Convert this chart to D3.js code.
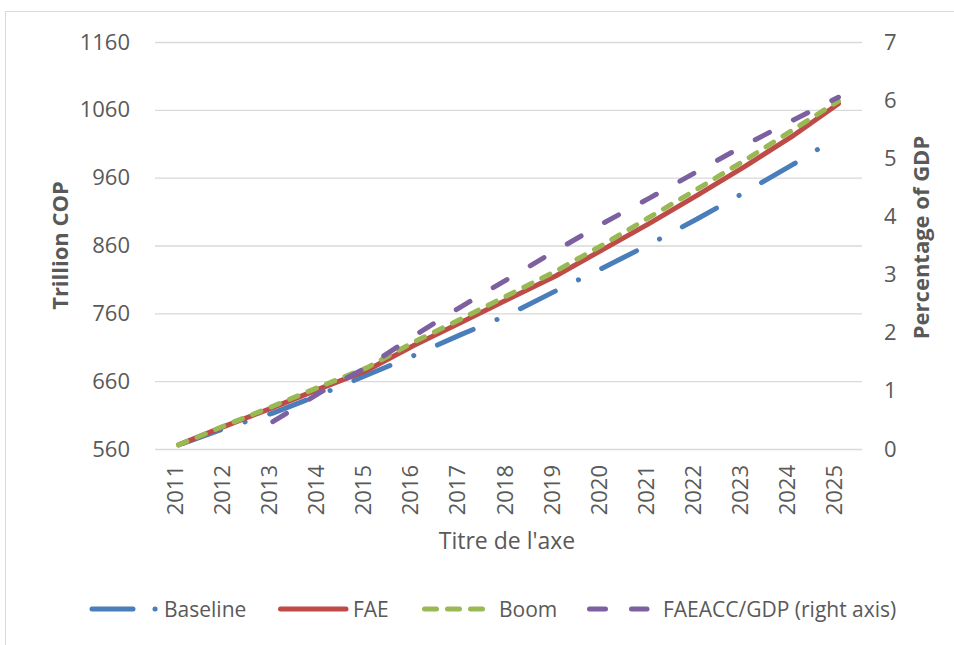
<!DOCTYPE html>
<html>
<head>
<meta charset="utf-8">
<script src="https://cdn.jsdelivr.net/npm/d3@7"></script>
<style>
  html, body { margin: 0; padding: 0; background: #fff; }
  svg { display: block; }
  text { font-family: "Open Sans", "Noto Sans", sans-serif; fill: #595959; }
</style>
</head>
<body>
<svg id="chart" width="954" height="645"></svg>
<script>
// Categories and series (trillion COP, right series in % of GDP)
const years = ["2011","2012","2013","2014","2015","2016","2017","2018","2019","2020","2021","2022","2023","2024","2025"];
const baseline = [566, 591, 613, 640, 669, 698, 729, 758, 793, 827, 862, 899, 938, 978, 1020];
const fae      = [566, 594, 621, 649, 676, 713, 747, 781, 815, 854, 893, 934, 976, 1020, 1069];
const boom     = [566, 595, 623, 652, 680, 718, 752, 787, 822, 861, 902, 943, 985, 1029, 1073];
const faeaccGdp = [null, null, 0.47, 0.97, 1.41, 1.95, 2.45, 2.93, 3.41, 3.88, 4.32, 4.77, 5.22, 5.64, 6.05];

const leftTicks = [560, 660, 760, 860, 960, 1060, 1160];
const rightTicks = [0, 1, 2, 3, 4, 5, 6, 7];

const svg = d3.select("#chart");

// Outer chart frame
svg.append("rect")
  .attr("x", 5.5).attr("y", 11.5)
  .attr("width", 970).attr("height", 660)
  .attr("fill", "none").attr("stroke", "#d9d9d9").attr("stroke-width", 1);

const plot = { left: 155, right: 862, top: 42, bottom: 449 };

const x = d3.scaleBand().domain(years).range([plot.left, plot.right]).padding(0);
const xc = d => x(d) + x.bandwidth() / 2;
const yL = d3.scaleLinear().domain([560, 1160]).range([plot.bottom, plot.top]);
const yR = d3.scaleLinear().domain([0, 7]).range([plot.bottom, plot.top]);

const tickFont = "22px";

// Horizontal gridlines at left-axis ticks
svg.append("g")
  .attr("transform", `translate(${plot.left},0)`)
  .call(d3.axisLeft(yL).tickValues(leftTicks).tickSize(-(plot.right - plot.left)).tickFormat(""))
  .call(g => g.select(".domain").remove())
  .call(g => g.selectAll("line").attr("stroke", "#d9d9d9").attr("stroke-width", 1.3));

// Left axis labels
svg.append("g")
  .attr("transform", `translate(${plot.left},0)`)
  .call(d3.axisLeft(yL).tickValues(leftTicks).tickSize(0).tickPadding(25).tickFormat(d3.format("d")))
  .call(g => g.select(".domain").remove())
  .call(g => g.selectAll("text").style("font-size", tickFont).attr("fill", "#595959")
    .style("font-family", '"Open Sans", sans-serif'));

// Right axis labels
svg.append("g")
  .attr("transform", `translate(${plot.right},0)`)
  .call(d3.axisRight(yR).tickValues(rightTicks).tickSize(0).tickPadding(22).tickFormat(d3.format("d")))
  .call(g => g.select(".domain").remove())
  .call(g => g.selectAll("text").style("font-size", tickFont).attr("fill", "#595959")
    .style("font-family", '"Open Sans", sans-serif'));

// Category labels, rotated
svg.append("g")
  .selectAll("text")
  .data(years)
  .join("text")
  .attr("transform", d => `translate(${xc(d) + 4},${plot.bottom + 16}) rotate(-90)`)
  .attr("text-anchor", "end")
  .style("font-size", tickFont)
  .text(d => d);

// Axis titles
svg.append("text")
  .attr("transform", `translate(68,${(plot.top + plot.bottom) / 2}) rotate(-90)`)
  .attr("text-anchor", "middle")
  .style("font-size", "22px").style("font-weight", "bold")
  .text("Trillion COP");

svg.append("text")
  .attr("transform", `translate(929,${(plot.top + plot.bottom) / 2 - 8}) rotate(-90)`)
  .attr("text-anchor", "middle")
  .style("font-size", "22px").style("font-weight", "bold")
  .text("Percentage of GDP");

svg.append("text")
  .attr("x", 507).attr("y", 549)
  .attr("text-anchor", "middle")
  .style("font-size", "23px")
  .text("Titre de l'axe");

// Series definitions
const series = [
  { name: "Baseline", values: baseline, scale: yL, color: "#4a7ebb", dash: "39,25.8,0.1,25.8", offset: -5.5 },
  { name: "FAE", values: fae, scale: yL, color: "#be4b48", dash: null, offset: 0 },
  { name: "Boom", values: boom, scale: yL, color: "#98b954", dash: "9,11", offset: 0 },
  { name: "FAEACC/GDP (right axis)", values: faeaccGdp, scale: yR, color: "#7d60a0", dash: "16,27", offset: 0 }
];

const lines = svg.append("g");
series.forEach(s => {
  const line = d3.line()
    .defined(d => d != null)
    .x((d, i) => xc(years[i]))
    .y(d => s.scale(d));
  lines.append("path")
    .datum(s.values)
    .attr("d", line)
    .attr("fill", "none")
    .attr("stroke", s.color)
    .attr("stroke-width", 5)
    .attr("stroke-linecap", "round")
    .attr("stroke-linejoin", "round")
    .attr("stroke-dasharray", s.dash)
    .attr("stroke-dashoffset", s.offset);
});

// Legend
const legendY = 609;
const legendItems = [
  { s: series[0], x0: 92, x1: 160, tx: 164, dash: "41,22,0.1,100" },
  { s: series[1], x0: 280.5, x1: 346, tx: 353, dash: null },
  { s: series[2], x0: 424.5, x1: 484, tx: 499, dash: "12,11" },
  { s: series[3], x0: 589.5, x1: 647, tx: 663, dash: "16,26" }
];
const legend = svg.append("g");
legendItems.forEach(it => {
  legend.append("line")
    .attr("x1", it.x0).attr("x2", it.x1)
    .attr("y1", legendY).attr("y2", legendY)
    .attr("stroke", it.s.color)
    .attr("stroke-width", 5)
    .attr("stroke-linecap", "round")
    .attr("stroke-dasharray", it.dash);
  legend.append("text")
    .attr("x", it.tx).attr("y", legendY + 7.5)
    .style("font-size", "21px")
    .text(it.s.name);
});
</script>
</body>
</html>
